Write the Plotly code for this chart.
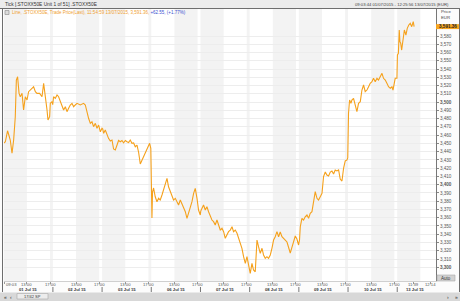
import plotly.graph_objects as go

# ---------------- data ----------------
days = ["2015-07-01", "2015-07-02", "2015-07-03", "2015-07-06", "2015-07-07",
        "2015-07-08", "2015-07-09", "2015-07-10", "2015-07-13"]
day_labels = ["01 Jul 15", "02 Jul 15", "03 Jul 15", "06 Jul 15", "07 Jul 15",
              "08 Jul 15", "09 Jul 15", "10 Jul 15", "13 Jul 15"]

t_0701 = ["09:03", "09:17", "09:40", "10:08", "10:26", "10:43", "11:00", "11:11", "11:24", "11:39",
          "11:52", "12:10", "12:26", "12:44", "13:02", "13:18", "13:53", "14:10", "14:28", "14:45",
          "15:12", "15:37", "15:54", "16:11", "16:29", "16:39", "16:56", "17:03", "17:21", "17:28"]
p_0701 = [3450.5, 3452.0, 3465.3, 3454.1, 3438.0, 3454.1, 3482.3, 3526.7, 3530.7, 3510.6,
          3506.5, 3510.6, 3490.4, 3506.5, 3502.5, 3512.6, 3516.7, 3518.6, 3512.6, 3510.6,
          3510.6, 3506.5, 3522.7, 3508.6, 3490.4, 3478.3, 3482.3, 3498.5, 3500.5, 3497.0]

t_0702 = ["09:07", "09:25", "09:43", "09:59", "10:17", "10:34", "10:51", "11:09", "11:26", "11:43",
          "12:00", "12:18", "12:35", "12:52", "13:10", "13:44", "14:18", "14:36", "14:54", "15:10",
          "15:28", "15:45", "16:02", "16:20", "16:37", "16:54", "17:12", "17:29"]
p_0702 = [3506.5, 3504.6, 3508.6, 3506.5, 3500.5, 3496.5, 3490.4, 3494.4, 3488.4, 3492.5,
          3496.5, 3498.5, 3494.4, 3496.5, 3498.5, 3496.5, 3498.5, 3496.5, 3486.4, 3480.4,
          3474.3, 3476.2, 3470.2, 3474.3, 3468.3, 3472.2, 3464.1, 3468.3]

t_0703 = ["09:07", "09:16", "09:33", "09:51", "10:07", "10:25", "10:43", "10:59", "11:17", "11:35",
          "11:51", "12:09", "12:26", "12:43", "13:01", "13:18", "13:35", "13:52", "14:10", "14:27",
          "14:44", "15:02", "15:19", "15:36", "15:54", "16:10", "16:28", "16:46", "17:02", "17:13", "17:25"]
p_0703 = [3467.4, 3462.2, 3466.2, 3460.1, 3456.1, 3452.9, 3454.1, 3443.2, 3442.0, 3448.0,
          3453.5, 3452.0, 3453.5, 3450.8, 3453.5, 3452.0, 3451.1, 3454.1, 3450.1, 3450.5,
          3446.0, 3448.0, 3439.0, 3425.0, 3429.9, 3434.7, 3439.9, 3444.0, 3448.0, 3450.1, 3444.0]

t_0706 = ["09:03", "09:07", "09:13", "09:24", "09:41", "09:59", "10:16", "10:33", "10:51", "11:08",
          "11:25", "11:43", "11:59", "12:17", "12:35", "12:51", "13:09", "13:27", "13:43", "14:01",
          "14:18", "14:35", "14:53", "15:10", "15:27", "15:44", "16:02", "16:19", "16:36", "16:54",
          "17:10", "17:28"]
p_0706 = [3397.5, 3359.7, 3391.1, 3396.0, 3385.4, 3379.4, 3383.5, 3381.4, 3387.5, 3393.6,
          3401.7, 3407.7, 3397.5, 3391.5, 3387.5, 3381.4, 3383.5, 3379.4, 3375.4, 3381.4,
          3377.4, 3373.3, 3367.3, 3359.3, 3365.3, 3373.3, 3379.4, 3389.6, 3395.6, 3383.5,
          3369.3, 3363.3]

t_0707 = ["09:03", "09:16", "09:32", "09:50", "10:07", "10:24", "10:42", "10:59", "11:16", "11:33",
          "11:51", "12:08", "12:25", "12:43", "13:00", "13:17", "13:35", "13:51", "14:09", "14:27",
          "14:43", "15:01", "15:19", "15:35", "15:53", "16:10", "16:27", "16:45", "17:02", "17:19", "17:28"]
p_0707 = [3368.0, 3371.4, 3375.4, 3369.3, 3373.3, 3367.3, 3361.2, 3357.2, 3355.2, 3351.2,
          3357.2, 3351.2, 3345.1, 3347.2, 3343.1, 3335.1, 3339.1, 3343.1, 3345.1, 3349.1,
          3343.1, 3345.1, 3341.1, 3335.1, 3329.0, 3323.0, 3312.8, 3304.8, 3312.8, 3300.7, 3299.1]

t_0708 = ["09:06", "09:24", "09:40", "09:58", "10:08", "10:16", "10:32", "10:50", "11:08", "11:24",
          "11:42", "11:59", "12:16", "12:34", "12:51", "13:08", "13:25", "13:43", "14:00", "14:17",
          "14:35", "14:52", "15:09", "15:27", "15:43", "16:01", "16:19", "16:35", "16:53", "17:10", "17:27"]
p_0708 = [3292.7, 3304.8, 3296.7, 3294.6, 3312.8, 3333.0, 3324.9, 3316.9, 3323.0, 3314.9,
          3310.9, 3312.8, 3310.9, 3314.9, 3323.0, 3333.0, 3337.0, 3343.1, 3337.0, 3342.7,
          3337.0, 3335.4, 3333.0, 3330.6, 3323.3, 3317.3, 3324.5, 3331.8, 3337.9, 3334.2, 3327.0]

t_0709 = ["09:07", "09:15", "09:32", "09:49", "10:06", "10:24", "10:41", "10:58", "11:16", "11:32",
          "11:50", "12:08", "12:24", "12:42", "13:00", "13:16", "13:34", "13:51", "14:08", "14:26",
          "14:43", "15:00", "15:17", "15:35", "15:52", "16:09", "16:27", "16:44", "17:01", "17:19", "17:27"]
p_0709 = [3333.0, 3349.1, 3359.3, 3357.2, 3361.2, 3363.3, 3359.3, 3365.3, 3367.3, 3381.4,
          3391.5, 3383.5, 3381.4, 3385.4, 3389.6, 3409.7, 3415.3, 3411.7, 3410.5, 3415.3,
          3416.6, 3412.9, 3417.8, 3416.6, 3417.8, 3406.9, 3404.4, 3420.2, 3428.7, 3429.9, 3432.3]

t_0710 = ["09:05", "09:16", "09:30", "09:40", "09:57", "10:15", "10:32", "10:49", "11:07", "11:24",
          "11:41", "11:58", "12:16", "12:33", "12:50", "13:08", "13:24", "13:42", "14:00", "14:16",
          "14:34", "14:52", "15:08", "15:26", "15:43", "16:00", "16:18", "16:35", "16:46", "16:59",
          "17:09", "17:27"]
p_0710 = [3486.4, 3502.5, 3498.5, 3502.5, 3504.6, 3496.5, 3488.4, 3498.5, 3500.5, 3514.6,
          3520.7, 3512.6, 3514.6, 3518.6, 3522.7, 3524.7, 3528.8, 3524.7, 3528.8, 3526.7,
          3530.7, 3534.8, 3528.8, 3526.7, 3522.7, 3518.6, 3516.7, 3518.6, 3514.6, 3522.7,
          3528.8, 3528.8]

t_0713 = ["09:02", "09:12", "09:21", "09:28", "09:36", "09:46", "09:58", "10:14", "10:30", "10:44",
          "11:00", "11:15", "11:30", "11:46", "11:55"]
p_0713 = [3557.0, 3559.1, 3587.3, 3573.1, 3571.2, 3563.0, 3575.2, 3587.3, 3581.2, 3589.3,
          3593.3, 3595.4, 3591.3, 3597.3, 3591.36]

y_ticks = list(range(3300, 3590, 10))
last_price = 3591.36

# ---------------- build series ----------------
sessions = [(days[0], t_0701, p_0701), (days[1], t_0702, p_0702), (days[2], t_0703, p_0703),
            (days[3], t_0706, p_0706), (days[4], t_0707, p_0707), (days[5], t_0708, p_0708),
            (days[6], t_0709, p_0709), (days[7], t_0710, p_0710), (days[8], t_0713, p_0713)]
xs, ys = [], []
for d, ts, ps in sessions:
    xs += [f"{d} {t}" for t in ts]
    ys += ps

W, H = 460, 301
ML, MR, MT, MB = 4, 24, 9, 20
PW, PH = W - ML - MR, H - MT - MB


def px(x):
    return (x - ML) / PW


def py(y):
    return (H - MB - y) / PH


FONT = "Liberation Sans"
ORANGE = "#f5a11c"

fig = go.Figure()
fig.add_trace(go.Scatter(x=xs, y=ys, mode="lines",
                         line=dict(color=ORANGE, width=1.1), hoverinfo="skip",
                         showlegend=False))

shapes = []
# alternating session shading (09-13, 13-17, 17-17:30)
k = 0
for d in days:
    for a, b in (("09:00", "13:00"), ("13:00", "17:00"), ("17:00", "17:30")):
        if k % 2 == 0:
            shapes.append(dict(type="rect", xref="x", yref="paper",
                               x0=f"{d} {a}", x1=f"{d} {b}", y0=0, y1=1,
                               fillcolor="#f3f3f3", line=dict(width=0), layer="below"))
        k += 1
# day separators under the axis
for d in days[1:]:
    shapes.append(dict(type="line", xref="x", yref="paper", x0=f"{d} 09:00", x1=f"{d} 09:00",
                       y0=py(287), y1=py(292), line=dict(color="#777", width=1)))
# title bar
shapes.append(dict(type="rect", xref="paper", yref="paper", x0=px(0), x1=px(W), y0=py(8.5), y1=py(0),
                   fillcolor="#ececec", line=dict(width=0)))
shapes.append(dict(type="line", xref="paper", yref="paper", x0=px(0), x1=px(W), y0=py(8.5), y1=py(8.5),
                   line=dict(color="#6e6e6e", width=1)))
# frame borders
shapes.append(dict(type="line", xref="paper", yref="paper", x0=px(2.5), x1=px(2.5), y0=py(292), y1=py(8.5),
                   line=dict(color="#6e6e6e", width=1)))
shapes.append(dict(type="line", xref="paper", yref="paper", x0=px(459.5), x1=px(459.5), y0=py(292), y1=py(8.5),
                   line=dict(color="#6e6e6e", width=1)))
# bottom toolbar
shapes.append(dict(type="rect", xref="paper", yref="paper", x0=px(0), x1=px(W), y0=py(H), y1=py(292.5),
                   fillcolor="#d8d8d8", line=dict(width=0)))
shapes.append(dict(type="rect", xref="paper", yref="paper", x0=px(17), x1=px(48), y0=py(299), y1=py(293.5),
                   fillcolor="#ececec", line=dict(color="#aaa", width=0.6)))
# legend icon
shapes.append(dict(type="rect", xref="paper", yref="paper", x0=px(5), x1=px(9), y0=py(14.5), y1=py(10.5),
                   fillcolor="#dcdcdc", line=dict(color="#888", width=0.6)))
# last-price box
shapes.append(dict(type="rect", xref="paper", yref="y", x0=px(436), x1=px(459), y0=last_price - 3.0,
                   y1=last_price + 3.0, fillcolor="#f7a51e", line=dict(width=0)))
# auto button
shapes.append(dict(type="rect", xref="paper", yref="paper", x0=px(437), x1=px(455), y0=py(281), y1=py(275),
                   fillcolor="#d3d3d3", line=dict(color="#aaa", width=0.6)))

ann = []


def note(x, y, text, size=4.5, color="#444", anchor="left", bold=False):
    ann.append(dict(xref="paper", yref="paper", x=px(x), y=py(y), text=f"<b>{text}</b>" if bold else text,
                    showarrow=False, xanchor=anchor, yanchor="middle",
                    font=dict(family=FONT, size=size, color=color)))


note(3, 4.5, "Tick [.STOXX50E Unit 1 of 51] .STOXX50E", 4.8, "#333")
note(451, 4.5, "09:03:44 01/07/2015 - 12:25:56 13/07/2015 (EUR)", 4.2, "#444", "right")
ann.append(dict(xref="paper", yref="paper", x=px(10), y=py(12.5), showarrow=False, xanchor="left",
                yanchor="middle", font=dict(family=FONT, size=4.5, color="#f0a030"),
                text=f"Line, .STOXX50E, Trade Price(Last), 11:54:59 13/07/2015, {last_price:,.2f}, "
                     "<span style='color:#3a4fd0'>+62.55, (+1.77%)</span>"))
note(439, 11.5, "Price", 4.3, "#444")
note(439, 17.5, "EUR", 4.3, "#444")
ann.append(dict(xref="paper", yref="y", x=px(437), y=last_price, text=f"<b>{last_price:,.2f}</b>",
                showarrow=False, xanchor="left", yanchor="middle",
                font=dict(family=FONT, size=4.6, color="#222")))
note(446, 278, "Auto", 4.5, "#333", "center")

# x tick marks (labels drawn as annotations for exact placement)
tickvals, ticktext = ["2015-07-01 09:03"], ["09:03"]
for d in days[:-1]:
    tickvals += [f"{d} 13:00", f"{d} 17:00"]
    ticktext += ["13:00", "17:00"]
tickvals += ["2015-07-13 11:46", "2015-07-13 14:42"]
ticktext += ["11:39", "12:14"]
for i, (tv, tt) in enumerate(zip(tickvals, ticktext)):
    ann.append(dict(xref="x", yref="paper", x=tv, y=py(284.3), text=tt, showarrow=False,
                    xanchor="left" if i == 0 else "center", yanchor="middle",
                    font=dict(family=FONT, size=4.2, color="#555")))
# date labels
for i, (d, lab) in enumerate(zip(days, day_labels)):
    when = f"{d} 12:05" if i == len(days) - 1 else f"{d} 13:15"
    ann.append(dict(xref="x", yref="paper", x=when, y=py(289.8), text=f"<b>{lab}</b>", showarrow=False,
                    xanchor="center", yanchor="middle", font=dict(family=FONT, size=4.2, color="#333")))
# toolbar glyphs
note(5, 296.5, "«", 5, "#333", "center")
note(11, 296.5, "‹", 5, "#333", "center")
note(32.5, 296.5, "17/42 SP", 4, "#333", "center")
note(448, 296.5, "›", 5, "#333", "center")
note(456, 296.5, "»", 5, "#333", "center")

fig.update_layout(
    width=W, height=H, margin=dict(l=ML, r=MR, t=MT, b=MB),
    paper_bgcolor="#fcfcfc", plot_bgcolor="#ffffff",
    shapes=shapes, annotations=ann, showlegend=False,
    font=dict(family=FONT),
    xaxis=dict(type="date", range=["2015-07-01 09:03", "2015-07-13 15:42"],
               rangebreaks=[dict(bounds=["sat", "mon"]), dict(bounds=[17.5, 9], pattern="hour")],
               tickvals=tickvals, showticklabels=False, ticks="outside", ticklen=2, tickcolor="#999",
               showgrid=False, zeroline=False,
               showline=True, linecolor="#cfcfcf", linewidth=1, fixedrange=True),
    yaxis=dict(side="right", range=[3283.4, 3612.7], tickvals=y_ticks,
               ticktext=[(f"<b>{v:,}</b>" if v % 100 == 0 else f"{v:,}") for v in y_ticks],
               ticks="outside", ticklen=2, tickcolor="#888",
               tickfont=dict(size=4.6, color="#555", family=FONT),
               showgrid=True, gridcolor="#ededed", gridwidth=1, zeroline=False,
               showline=True, linecolor="#777", linewidth=1, fixedrange=True),
)

fig.write_html("out.html")
